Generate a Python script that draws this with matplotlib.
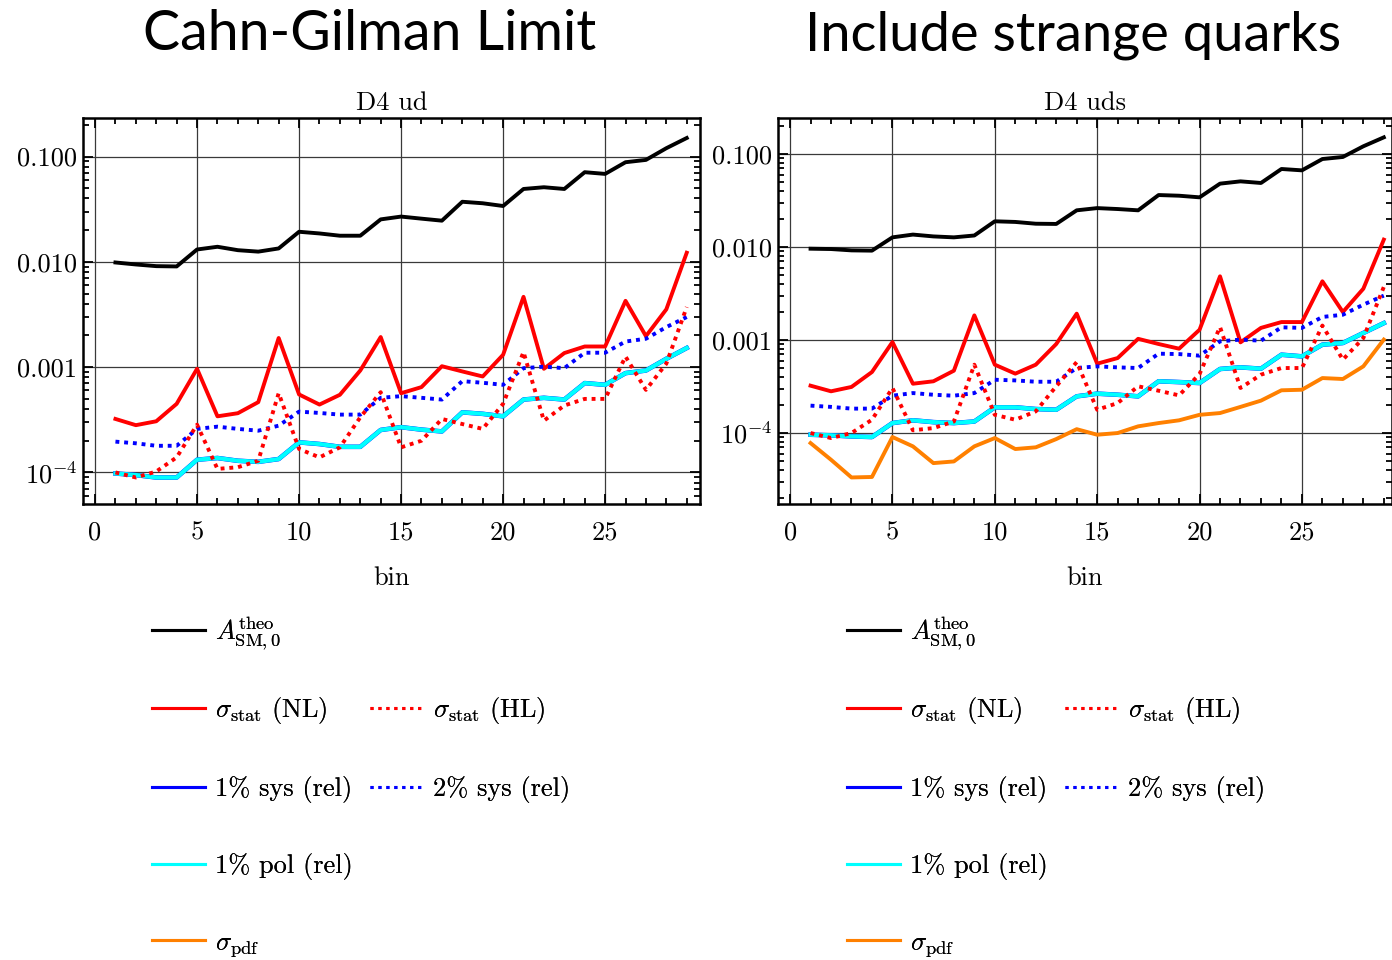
import matplotlib
matplotlib.use('Agg')
import matplotlib.pyplot as plt
from matplotlib.lines import Line2D
from matplotlib.ticker import (FixedLocator, FixedFormatter, LogLocator,
                               MultipleLocator, NullFormatter)

plt.rcParams['font.family'] = 'cmr10'
plt.rcParams['mathtext.fontset'] = 'cm'
plt.rcParams['axes.unicode_minus'] = False

bins = list(range(1, 30))

# D4 ud
a_theo_ud = [0.00986, 0.00944, 0.00910, 0.00904, 0.0131, 0.0139, 0.0129, 0.0125, 0.0134, 0.0193,
             0.0186, 0.0177, 0.0177, 0.0253, 0.0269, 0.0257, 0.0246, 0.0372, 0.0360, 0.0339,
             0.0492, 0.0511, 0.0492, 0.0710, 0.0684, 0.0883, 0.0929, 0.120, 0.150]
stat_nl_ud = [3.22e-4, 2.81e-4, 3.06e-4, 4.48e-4, 9.64e-4, 3.41e-4, 3.65e-4, 4.65e-4, 1.89e-3, 5.50e-4,
              4.41e-4, 5.46e-4, 9.29e-4, 1.93e-3, 5.65e-4, 6.46e-4, 1.02e-3, 9.10e-4, 8.15e-4, 1.31e-3,
              4.65e-3, 9.64e-4, 1.36e-3, 1.57e-3, 1.57e-3, 4.26e-3, 1.97e-3, 3.54e-3, 1.22e-2]
stat_hl_ud = [1.00e-4, 8.95e-5, 1.02e-4, 1.39e-4, 2.84e-4, 1.08e-4, 1.12e-4, 1.29e-4, 5.65e-4, 1.67e-4,
              1.39e-4, 1.73e-4, 3.34e-4, 5.78e-4, 1.73e-4, 2.00e-4, 3.22e-4, 2.88e-4, 2.59e-4, 4.48e-4,
              1.39e-3, 3.10e-4, 4.32e-4, 4.99e-4, 4.99e-4, 1.26e-3, 6.08e-4, 1.08e-3, 3.72e-3]
sys1_ud = [9.77e-5, 9.44e-5, 8.95e-5, 8.95e-5, 1.32e-4, 1.37e-4, 1.29e-4, 1.26e-4, 1.34e-4, 1.93e-4,
           1.86e-4, 1.75e-4, 1.75e-4, 2.53e-4, 2.69e-4, 2.55e-4, 2.45e-4, 3.72e-4, 3.60e-4, 3.41e-4,
           4.92e-4, 5.11e-4, 4.92e-4, 7.05e-4, 6.79e-4, 8.77e-4, 9.29e-4, 1.20e-3, 1.52e-3]
sys2_ud = [1.96e-4, 1.89e-4, 1.79e-4, 1.79e-4, 2.59e-4, 2.72e-4, 2.59e-4, 2.49e-4, 2.78e-4, 3.78e-4,
           3.67e-4, 3.54e-4, 3.54e-4, 5.11e-4, 5.30e-4, 5.11e-4, 4.92e-4, 7.36e-4, 7.10e-4, 6.79e-4,
           9.77e-4, 1.01e-3, 9.77e-4, 1.37e-3, 1.37e-3, 1.75e-3, 1.86e-3, 2.40e-3, 2.99e-3]
pol1_ud = [9.77e-5, 9.44e-5, 8.95e-5, 8.95e-5, 1.32e-4, 1.37e-4, 1.29e-4, 1.26e-4, 1.34e-4, 1.93e-4,
           1.86e-4, 1.75e-4, 1.75e-4, 2.53e-4, 2.69e-4, 2.55e-4, 2.45e-4, 3.72e-4, 3.60e-4, 3.41e-4,
           4.92e-4, 5.11e-4, 4.92e-4, 7.05e-4, 6.79e-4, 8.77e-4, 9.29e-4, 1.20e-3, 1.52e-3]

# D4 uds
a_theo_uds = [0.00959, 0.00951, 0.00920, 0.00914, 0.0127, 0.0136, 0.0130, 0.0127, 0.0133, 0.0189,
              0.0186, 0.0178, 0.0177, 0.0248, 0.0262, 0.0256, 0.0248, 0.0362, 0.0356, 0.0342,
              0.0480, 0.0508, 0.0488, 0.0690, 0.0667, 0.0883, 0.0929, 0.121, 0.151]
stat_nl_uds = [3.23e-4, 2.81e-4, 3.13e-4, 4.53e-4, 9.51e-4, 3.39e-4, 3.60e-4, 4.68e-4, 1.84e-3, 5.43e-4,
               4.35e-4, 5.43e-4, 9.06e-4, 1.92e-3, 5.57e-4, 6.40e-4, 1.03e-3, 9.06e-4, 8.07e-4, 1.29e-3,
               4.84e-3, 9.44e-4, 1.35e-3, 1.56e-3, 1.56e-3, 4.28e-3, 2.00e-3, 3.56e-3, 1.20e-2]
stat_hl_uds = [1.00e-4, 8.83e-5, 1.00e-4, 1.39e-4, 3.05e-4, 1.07e-4, 1.13e-4, 1.33e-4, 5.43e-4, 1.57e-4,
               1.39e-4, 1.71e-4, 3.18e-4, 5.79e-4, 1.78e-4, 2.10e-4, 3.18e-4, 2.85e-4, 2.54e-4, 4.31e-4,
               1.38e-3, 3.05e-4, 4.24e-4, 5.00e-4, 5.00e-4, 1.43e-3, 6.15e-4, 1.05e-3, 3.72e-3]
sys1_uds = [9.59e-5, 9.44e-5, 9.20e-5, 9.06e-5, 1.28e-4, 1.37e-4, 1.31e-4, 1.28e-4, 1.33e-4, 1.89e-4,
            1.89e-4, 1.81e-4, 1.78e-4, 2.48e-4, 2.65e-4, 2.58e-4, 2.48e-4, 3.60e-4, 3.53e-4, 3.45e-4,
            4.88e-4, 5.08e-4, 4.92e-4, 6.95e-4, 6.67e-4, 8.91e-4, 9.29e-4, 1.19e-3, 1.52e-3]
sys2_uds = [1.97e-4, 1.91e-4, 1.83e-4, 1.83e-4, 2.52e-4, 2.69e-4, 2.58e-4, 2.52e-4, 2.69e-4, 3.74e-4,
            3.68e-4, 3.56e-4, 3.56e-4, 5.00e-4, 5.21e-4, 5.08e-4, 5.00e-4, 7.13e-4, 7.06e-4, 6.79e-4,
            9.68e-4, 1.01e-3, 9.84e-4, 1.37e-3, 1.35e-3, 1.77e-3, 1.87e-3, 2.40e-3, 3.00e-3]
pol1_uds = [9.59e-5, 9.44e-5, 9.20e-5, 9.06e-5, 1.28e-4, 1.37e-4, 1.31e-4, 1.28e-4, 1.33e-4, 1.89e-4,
            1.89e-4, 1.81e-4, 1.78e-4, 2.48e-4, 2.65e-4, 2.58e-4, 2.48e-4, 3.60e-4, 3.53e-4, 3.45e-4,
            4.88e-4, 5.08e-4, 4.92e-4, 6.95e-4, 6.67e-4, 8.91e-4, 9.29e-4, 1.19e-3, 1.52e-3]
pdf_uds = [7.80e-5, 5.16e-5, 3.33e-5, 3.37e-5, 9.06e-5, 7.19e-5, 4.75e-5, 4.95e-5, 7.19e-5, 8.83e-5,
           6.73e-5, 7.02e-5, 8.61e-5, 1.10e-4, 9.59e-5, 1.00e-4, 1.18e-4, 1.28e-4, 1.37e-4, 1.57e-4,
           1.64e-4, 1.91e-4, 2.23e-4, 2.88e-4, 2.92e-4, 3.90e-4, 3.81e-4, 5.21e-4, 1.01e-3]

ytick_vals = [1e-4, 1e-3, 1e-2, 1e-1]
ytick_text = [r'$10^{-4}$', '0.001', '0.010', '0.100']

ORANGE = '#ff8000'
DOT = (0, (1.0, 1.25))
LW = 2.8
FS = 19

W, H = 1392, 960
fig = plt.figure(figsize=(W / 100, H / 100), dpi=100)


def rect(x0, y0, x1, y1):
    return [x0 / W, 1 - y1 / H, (x1 - x0) / W, (y1 - y0) / H]


def style(ax, title, xmax, ylo, yhi):
    ax.set_yscale('log')
    ax.set_xlim(-0.59, xmax)
    ax.set_ylim(ylo, yhi)
    ax.xaxis.set_major_locator(MultipleLocator(5))
    ax.xaxis.set_minor_locator(MultipleLocator(1))
    ax.yaxis.set_major_locator(FixedLocator(ytick_vals))
    ax.yaxis.set_major_formatter(FixedFormatter(ytick_text))
    ax.yaxis.set_minor_locator(LogLocator(base=10, subs=range(2, 10), numticks=20))
    ax.yaxis.set_minor_formatter(NullFormatter())
    ax.tick_params(which='both', direction='in', top=True, right=True,
                   width=1.3, labelsize=FS)
    ax.tick_params(which='major', length=7)
    ax.tick_params(which='minor', length=4)
    ax.tick_params(axis='x', pad=12)
    ax.tick_params(axis='y', pad=4)
    ax.grid(which='major', color='#3a3a3a', lw=0.9)
    for s in ax.spines.values():
        s.set_linewidth(1.8)
    ax.set_title(title, fontsize=FS, pad=6)
    ax.set_xlabel('bin', fontsize=FS, labelpad=16)


def draw(ax, a_theo, stat_nl, stat_hl, sys1, sys2, pol1, pdf=None):
    ax.plot(bins, a_theo, color='black', lw=LW)
    ax.plot(bins, stat_nl, color='red', lw=LW)
    ax.plot(bins, sys1, color='blue', lw=3.3)
    ax.plot(bins, pol1, color='cyan', lw=3.1)
    ax.plot(bins, sys2, color='blue', lw=LW, ls=DOT)
    ax.plot(bins, stat_hl, color='red', lw=LW, ls=DOT)
    if pdf is not None:
        ax.plot(bins, pdf, color=ORANGE, lw=LW)


ax1 = fig.add_axes(rect(83, 118, 700, 504))
style(ax1, 'D4 ud', 29.65, 10 ** -4.30, 10 ** -0.634)
draw(ax1, a_theo_ud, stat_nl_ud, stat_hl_ud, sys1_ud, sys2_ud, pol1_ud)

ax2 = fig.add_axes(rect(778, 118, 1392, 504))
style(ax2, 'D4 uds', 29.4, 10 ** -4.763, 10 ** -0.613)
draw(ax2, a_theo_uds, stat_nl_uds, stat_hl_uds, sys1_uds, sys2_uds, pol1_uds, pdf_uds)

fig.text(370 / W, 1 - 50 / H, 'Cahn-Gilman Limit', family='Lato', fontsize=40,
         ha='center', va='baseline')
fig.text(1073 / W, 1 - 50 / H, 'Include strange quarks', family='Lato', fontsize=39,
         ha='center', va='baseline')

# legend keys
LK = 2.2
KDOT = (0, (1.0, 1.6))
row1 = [(Line2D([], [], color='black', lw=LK), r'$A^{\rm theo}_{\rm SM,0}$')]
col1 = [
    (Line2D([], [], color='red', lw=LK), r'$\sigma_{\rm stat}$ (NL)'),
    (Line2D([], [], color='blue', lw=LK), '1% sys (rel)'),
    (Line2D([], [], color='cyan', lw=LK), '1% pol (rel)'),
    (Line2D([], [], color=ORANGE, lw=LK), r'$\sigma_{\rm pdf}$'),
]
col2 = [
    (Line2D([], [], color='red', lw=LK, ls=KDOT), r'$\sigma_{\rm stat}$ (HL)'),
    (Line2D([], [], color='blue', lw=LK, ls=KDOT), '2% sys (rel)'),
]

leg_kw = dict(frameon=False, fontsize=FS, borderpad=0, borderaxespad=0,
              handlelength=2.0, handletextpad=0.4, labelspacing=1.9)


def add_legend(entries, x, y, loc):
    leg = fig.legend([h for h, _ in entries], [t for _, t in entries], loc=loc,
                     bbox_to_anchor=(x / W, 1 - y / H), **leg_kw)
    fig.add_artist(leg)


for dx in (0, 695):
    add_legend(row1, 152 + dx, 633, 'center left')
    add_legend(col1, 152 + dx, 695, 'upper left')
    add_legend(col2, 370 + dx, 749, 'center left')

fig.savefig('out.png', dpi=100)
